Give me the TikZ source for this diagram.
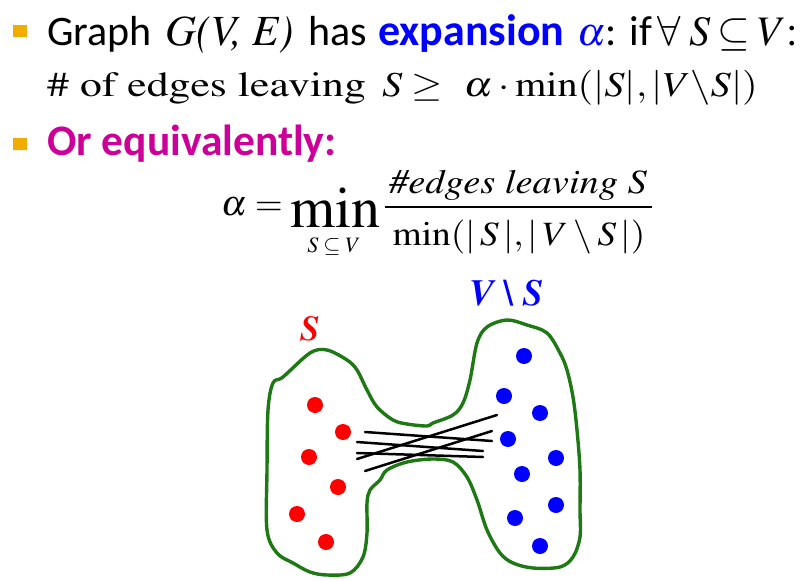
\documentclass[tikz,border=0pt]{standalone}
\usepackage{mathptmx}
\usepackage[T1]{fontenc}
\usepackage[no-math]{fontspec}
\newfontfamily\calibri{Carlito}
\newcommand\tmrm{\fontencoding{T1}\fontfamily{ptm}\fontseries{m}\fontshape{n}\selectfont}
\newcommand\tmit{\fontencoding{T1}\fontfamily{ptm}\fontseries{m}\fontshape{it}\selectfont}
\newcommand\tmbi{\fontencoding{T1}\fontfamily{ptm}\fontseries{b}\fontshape{it}\selectfont}
\definecolor{bulletor}{RGB}{240,172,0}
\definecolor{expblue}{RGB}{0,0,255}
\definecolor{orpink}{RGB}{204,0,153}
\definecolor{blobgreen}{RGB}{30,120,20}

\begin{document}
\begin{tikzpicture}[x=1pt, y=-1pt, txt/.style={anchor=base west, inner sep=0pt}, big/.style={font=\fontsize{42}{50}\selectfont}, cut/.style={line width=2.5pt, line cap=round}]
\useasboundingbox (0,0) rectangle (807,581);
\fill[bulletor] (13,25) rectangle (27,37) (13,138) rectangle (27,150);
\node[txt, big] (graph) at (47,45) {\calibri Graph};
\node[txt, big] (gve) at (165,45) {\fontsize{43}{50}\selectfont\tmit G(V, E)};
\node[txt, big] (has) at (308,45) {\calibri has};
\node[txt, big] (expan) at (378,45) {\fontsize{44}{50}\selectfont\calibri\bfseries\color{expblue}expansion};
\node[txt, big] (expal) at (577,45) {{\fontsize{40}{50}\selectfont\color{expblue}$\alpha$}\calibri: if};
\node[txt, big] (forall) at (657,45) {$\forall\hspace{9pt}S\hspace{7pt}{\subseteq}\hspace{7pt}V${\tmrm :}};
\node[txt] (cnt) at (47,96) {\fontsize{35}{40}\selectfont\scalebox{1.25}[1]{\tmrm \# of edges leaving}};
\node[txt] (cntm) at (382,96) {\fontsize{35}{40}\selectfont\scalebox{1.15}[1]{$S\geq\ \alpha\cdot\min(|S|,|V\backslash S|)$}};
\node[txt] (equiv) at (47,155) {\fontsize{43.5}{50}\selectfont\calibri\bfseries\color{orpink}Or equivalently:};
\node[txt, anchor=base east] (alphaeq) at (283,215) {\fontsize{36}{40}\selectfont$\alpha =$};
\node[txt] (minop) at (290,227) {\fontsize{58}{60}\selectfont\tmrm min};
\node[inner sep=0pt] (minsub) at (334,247) {\fontsize{22}{24}\selectfont$S\subseteq V$};
\node[anchor=base, inner sep=0pt] (numer) at (518,193) {\fontsize{34}{40}\selectfont\scalebox{1.13}[1]{\tmit \#edges leaving S}};
\node[anchor=base, inner sep=0pt] (denom) at (519,245) {\fontsize{34}{40}\selectfont\scalebox{1.1}[1]{$\min(|\,S\,|,|\,V\setminus S\,|)$}};
\draw[line width=1.5pt] (385,207) -- (652,207);
\draw[blobgreen, line width=3.4pt, line join=round] plot[smooth cycle, tension=0.55] coordinates {
 (273,383) (283,377) (310,353) (327,350) (347,360) (357,370) (367,390) (377,407) (393,420) (407,424)
 (427,426) (433,423) (453,415) (463,403) (470,380) (477,343) (487,327) (507,320) (527,325) (547,333)
 (560,353) (567,370) (573,397) (577,430) (580,470) (580,510) (580,537) (573,557) (560,567) (533,568)
 (513,563) (500,553) (487,530) (477,500) (467,477) (453,462) (433,459) (407,462) (387,470) (380,480)
 (370,490) (367,503) (367,533) (363,557) (350,573) (327,575) (310,572) (293,563) (277,553) (267,530)
 (267,470) (268,410)};
\node[txt] (labS) at (300,340) {\fontsize{35}{40}\selectfont\tmbi\color{red}S};
\node[txt] (labVS) at (469,305) {\fontsize{37}{40}\selectfont\tmbi\color{expblue}V \textbackslash\ S};
\foreach \x/\y in {315/405, 343/432, 309/457, 338/487, 297/514, 326/542}
  \fill[red] (\x,\y) circle (8);
\foreach \x/\y in {524/356, 504/396, 540/413, 508/439, 556/458, 522/474, 556/505, 515/518, 540/546}
  \fill[expblue] (\x,\y) circle (8);
\foreach \i/\a/\b/\c/\d in {1/365/432/492/441, 2/357/442/483/451, 3/357/453/483/457, 4/357/459/497/415, 5/365/471/492/431}{
  \coordinate (sin\i) at (\a,\b);
  \coordinate (sout\i) at (\c,\d);
  \draw[cut] (sin\i) -- (sout\i);
}
\end{tikzpicture}
\end{document}
